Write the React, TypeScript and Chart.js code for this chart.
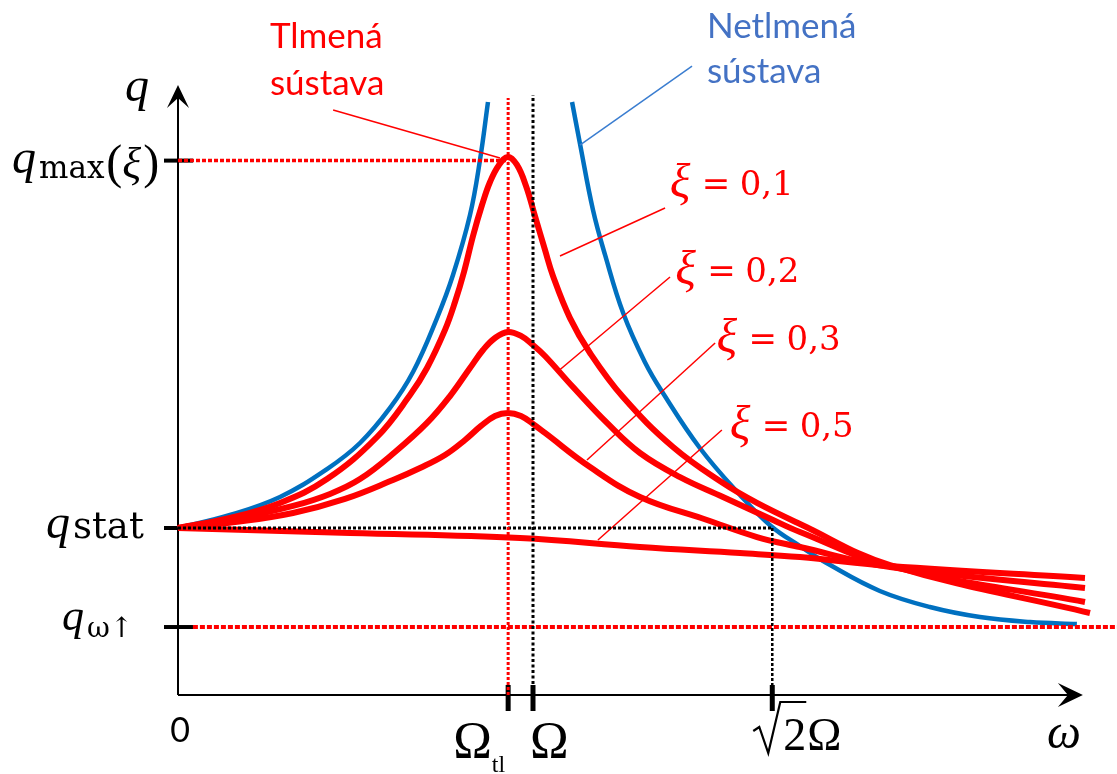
import React, { useEffect, useRef } from "react";
import { Chart, registerables } from "chart.js";

Chart.register(...registerables);

// ---- axis reference values (ω in units of Ω, q in units of q_stat; schematic) ----
const OMEGA_TL = 0.93;
const OMEGA = 1.0;
const SQRT2_OMEGA = 1.674;
const Q_MAX = 3.2;
const Q_STAT = 1.0;
const Q_INF = 0.407;
const W_AXIS_END = 2.549;
const Q_AXIS_END = 3.653;
const W_RIGHT_EDGE = 2.645;

// ---- undamped system (two branches around the resonance) ----
const undampedLeftW = [0, 0.1465, 0.2873, 0.4197, 0.5127, 0.5972, 0.662, 0.7296, 0.7746, 0.8225, 0.8507, 0.8732];
const undampedLeftQ = [1.0, 1.078, 1.186, 1.353, 1.509, 1.719, 1.934, 2.257, 2.515, 2.874, 3.204, 3.551];
const undampedRightW = [1.11, 1.132, 1.169, 1.203, 1.254, 1.315, 1.366, 1.47, 1.583, 1.67, 1.752, 1.837, 1.977, 2.118, 2.259, 2.4, 2.532];
const undampedRightQ = [3.551, 3.305, 2.904, 2.635, 2.287, 1.994, 1.808, 1.479, 1.198, 1.012, 0.892, 0.778, 0.623, 0.527, 0.467, 0.437, 0.425];

// ---- damped system, ξ = 0,1 / 0,2 / 0,3 / 0,5 ----
const xi01W = [0, 0.1465, 0.2873, 0.4197, 0.5606, 0.6535, 0.7014, 0.7521, 0.7803, 0.8056, 0.831, 0.8563, 0.8789, 0.9042, 0.9296, 0.9549, 0.9803, 1.0056, 1.0338, 1.0563, 1.1042, 1.1606, 1.2535, 1.3944, 1.5352, 1.631, 1.7521, 2.0056, 2.569];
const xi01Q = [1.0, 1.06, 1.15, 1.293, 1.545, 1.796, 1.958, 2.186, 2.353, 2.533, 2.749, 2.934, 3.072, 3.174, 3.222, 3.174, 3.048, 2.868, 2.665, 2.509, 2.257, 2.048, 1.784, 1.485, 1.269, 1.15, 1.024, 0.778, 0.491];
const xi02W = [0, 0.1606, 0.3239, 0.4282, 0.5127, 0.6113, 0.7014, 0.7662, 0.8225, 0.8592, 0.893, 0.9296, 0.9662, 1.0, 1.0338, 1.1127, 1.2085, 1.3014, 1.4141, 1.5352, 1.6761, 1.7521, 2.0056, 2.5549];
const xi02Q = [1.0, 1.054, 1.132, 1.204, 1.293, 1.455, 1.629, 1.79, 1.958, 2.066, 2.138, 2.174, 2.15, 2.096, 2.03, 1.844, 1.629, 1.449, 1.305, 1.186, 1.048, 0.976, 0.772, 0.557];
const xi03W = [0, 0.1606, 0.3239, 0.4704, 0.6056, 0.6817, 0.7521, 0.8085, 0.8535, 0.893, 0.9296, 0.9662, 1.0, 1.0338, 1.1606, 1.3014, 1.4901, 1.631, 1.7521, 2.0056, 2.5549];
const xi03Q = [1.0, 1.036, 1.09, 1.174, 1.287, 1.359, 1.437, 1.527, 1.611, 1.671, 1.689, 1.671, 1.623, 1.569, 1.365, 1.186, 1.048, 0.946, 0.886, 0.766, 0.641];
const xi05W = [0, 0.4845, 0.9634, 1.3014, 1.5831, 1.7521, 2.0056, 2.5549];
const xi05Q = [1.0, 0.97, 0.94, 0.886, 0.85, 0.826, 0.772, 0.701];

// ---- labels ----
const xiLabels = ["0,1", "0,2", "0,3", "0,5"];
const dampedLabel = ["Tlmená", "sústava"];
const undampedLabel = ["Netlmená", "sústava"];

// leader lines [from label, to curve] in (ω, q)
const leaderDampedW = [0.437, 0.907];
const leaderDampedQ = [3.503, 3.216];
const leaderUndampedW = [1.448, 1.132];
const leaderUndampedQ = [3.766, 3.293];
const leaderXiW = [[1.372, 1.076], [1.386, 1.068], [1.513, 1.152], [1.532, 1.183]];
const leaderXiQ = [[2.916, 2.629], [2.503, 1.934], [2.108, 1.407], [1.587, 0.928]];
// label anchors (left, baseline) in (ω, q)
const xiLabelW = [1.385, 1.401, 1.517, 1.554];
const xiLabelQ = [2.994, 2.473, 2.066, 1.545];
const dampedLabelW = 0.259;
const dampedLabelQ = [3.874, 3.593];
const undampedLabelW = 1.49;
const undampedLabelQ = [3.934, 3.665];

const RED = "#FF0000";
const BLUE = "#0070C0";
const BLUE_TEXT = "#4472C4";

const pts = (w: number[], q: number[]) => w.map((v, i) => ({ x: v, y: q[i] }));

const curve = (data: any, color: string, width: number) => ({
  data,
  showLine: true,
  borderColor: color,
  borderWidth: width,
  pointRadius: 0,
  fill: false,
  tension: 0.4,
  borderCapStyle: "butt" as const,
  borderJoinStyle: "round" as const,
});
const straight = (data: any, color: string, width: number, dash: number[] = []) => ({
  data,
  showLine: true,
  borderColor: color,
  borderWidth: width,
  borderDash: dash,
  pointRadius: 0,
  fill: false,
  tension: 0,
  borderCapStyle: "butt" as const,
});

const SERIF = '"Liberation Serif", "Times New Roman", serif';
const MSERIF = '"DejaVu Serif", serif';
const SANS = 'Lato, "Open Sans", sans-serif';

function runs(ctx: CanvasRenderingContext2D, x: number, y: number, parts: [string, string, number?, number?][]) {
  let cx = x;
  for (const [text, font, dy = 0, dx = 0] of parts) {
    ctx.font = font;
    cx += dx;
    ctx.fillText(text, cx, y + dy);
    cx += ctx.measureText(text).width;
  }
}

const overlay = {
  id: "overlay",
  beforeDatasetsDraw(chart: any) {
    const { ctx, scales } = chart;
    const X = (v: number) => scales.x.getPixelForValue(v);
    const Y = (v: number) => scales.y.getPixelForValue(v);
    const x0 = X(0), y0 = Y(0);
    ctx.save();
    ctx.strokeStyle = "#000";
    ctx.fillStyle = "#000";
    ctx.lineWidth = 2;
    ctx.beginPath();
    ctx.moveTo(x0, y0);
    ctx.lineTo(X(W_AXIS_END) - 12, y0);
    ctx.moveTo(x0, y0);
    ctx.lineTo(x0, Y(Q_AXIS_END) + 12);
    ctx.stroke();
    const tx = X(W_AXIS_END);
    ctx.beginPath();
    ctx.moveTo(tx, y0);
    ctx.lineTo(tx - 25, y0 - 12);
    ctx.lineTo(tx - 15, y0);
    ctx.lineTo(tx - 25, y0 + 12);
    ctx.closePath();
    ctx.fill();
    const ty = Y(Q_AXIS_END);
    ctx.beginPath();
    ctx.moveTo(x0, ty);
    ctx.lineTo(x0 - 11, ty + 23);
    ctx.lineTo(x0, ty + 13);
    ctx.lineTo(x0 + 11, ty + 23);
    ctx.closePath();
    ctx.fill();
    ctx.lineWidth = 4;
    for (const q of [Q_MAX, Q_STAT, Q_INF]) {
      ctx.beginPath();
      ctx.moveTo(x0 - 14, Y(q));
      ctx.lineTo(x0 + 15, Y(q));
      ctx.stroke();
    }
    ctx.lineWidth = 5;
    for (const w of [OMEGA_TL, OMEGA, SQRT2_OMEGA]) {
      ctx.beginPath();
      ctx.moveTo(X(w), y0 - 10);
      ctx.lineTo(X(w), y0 + 16);
      ctx.stroke();
    }
    ctx.restore();
  },
  afterDatasetsDraw(chart: any) {
    const { ctx, scales } = chart;
    const X = (v: number) => scales.x.getPixelForValue(v);
    const Y = (v: number) => scales.y.getPixelForValue(v);
    const x0 = X(0), y0 = Y(0);
    ctx.save();
    ctx.textBaseline = "alphabetic";
    ctx.textAlign = "left";
    ctx.fillStyle = "#000";
    // y-axis labels
    runs(ctx, x0 - 53, Y(Q_AXIS_END) + 16, [["q", `italic 48px ${SERIF}`]]);
    runs(ctx, x0 - 166, Y(Q_MAX) + 12, [
      ["q", `italic 48px ${SERIF}`],
      ["max", `31px ${MSERIF}`, 5, 3],
      ["(", `48px ${SERIF}`, 5, 2],
      ["ξ", `italic 44px ${SERIF}`, 5],
      [")", `48px ${SERIF}`, 5, 2],
    ]);
    runs(ctx, x0 - 132, Y(Q_STAT) + 10, [
      ["q", `italic 48px ${SERIF}`],
      ["stat", `37px ${MSERIF}`, 0, 3],
    ]);
    runs(ctx, x0 - 116, Y(Q_INF) + 3, [
      ["q", `italic 44px ${SERIF}`],
      ["ω↑", `28px ${MSERIF}`, 7, 3],
    ]);
    // x-axis labels
    ctx.font = `34px ${SANS}`;
    ctx.textAlign = "center";
    ctx.fillText("0", x0 + 2, y0 + 47);
    ctx.textAlign = "left";
    runs(ctx, X(OMEGA_TL) - 55, y0 + 63, [
      ["Ω", `52px ${SERIF}`],
      ["tl", `24px ${SERIF}`, 14, 0],
    ]);
    runs(ctx, X(OMEGA) - 3, y0 + 63, [["Ω", `52px ${SERIF}`]]);
    const sx = X(SQRT2_OMEGA) - 19;
    const by = y0 + 55;
    ctx.strokeStyle = "#000";
    ctx.lineWidth = 2.2;
    ctx.beginPath();
    ctx.moveTo(sx, by - 19);
    ctx.lineTo(sx + 6, by - 23);
    ctx.lineTo(sx + 15, by + 3);
    ctx.lineTo(sx + 27, by - 48);
    ctx.lineTo(sx + 53, by - 48);
    ctx.stroke();
    runs(ctx, sx + 30, by, [
      ["2", `46px ${SERIF}`],
      ["Ω", `46px ${SERIF}`, 0, 1],
    ]);
    runs(ctx, X(W_AXIS_END) - 36, y0 + 53, [["ω", `italic 48px ${SERIF}`]]);

    // system labels
    ctx.font = `35px ${SANS}`;
    ctx.fillStyle = RED;
    dampedLabel.forEach((t, i) => ctx.fillText(t, X(dampedLabelW), Y(dampedLabelQ[i])));
    ctx.fillStyle = BLUE_TEXT;
    undampedLabel.forEach((t, i) => ctx.fillText(t, X(undampedLabelW), Y(undampedLabelQ[i])));

    // ξ labels
    ctx.fillStyle = RED;
    xiLabels.forEach((t, i) => {
      const lx = X(xiLabelW[i]);
      const ly = Y(xiLabelQ[i]);
      ctx.font = `italic 48px ${SERIF}`;
      ctx.fillText("ξ", lx, ly + 2);
      ctx.font = `34px ${MSERIF}`;
      ctx.fillText("=", lx + 32, ly);
      ctx.fillText(t, lx + 70, ly);
    });
    ctx.restore();
  },
};

export default function App() {
  const ref = useRef<HTMLCanvasElement | null>(null);
  useEffect(() => {
    if (!ref.current) return;
    const datasets: any[] = [
      straight(pts([0, OMEGA_TL], [Q_MAX, Q_MAX]), RED, 3.5, [4, 2]),
      straight(pts([OMEGA_TL, OMEGA_TL], [0, 3.575]), RED, 3, [3, 2]),
      straight(pts([OMEGA, OMEGA], [0, 3.593]), "#000", 3, [3, 2.5]),
      straight(pts([0, SQRT2_OMEGA], [Q_STAT, Q_STAT]), "#000", 3, [3, 2]),
      straight(pts([SQRT2_OMEGA, SQRT2_OMEGA], [Q_STAT, 0]), "#000", 2.5, [3, 2]),
      straight(pts([0.042, W_RIGHT_EDGE], [Q_INF, Q_INF]), RED, 4, [5, 2]),
      straight(pts(leaderDampedW, leaderDampedQ), RED, 1.5),
      straight(pts(leaderUndampedW, leaderUndampedQ), "#3A7DD0", 1.5),
      ...leaderXiW.map((w, i) => straight(pts(w, leaderXiQ[i]), RED, 1.5)),
      curve(pts(xi01W, xi01Q), RED, 6),
      curve(pts(xi02W, xi02Q), RED, 6),
      curve(pts(xi03W, xi03Q), RED, 6),
      curve(pts(xi05W, xi05Q), RED, 6),
      curve(pts(undampedLeftW, undampedLeftQ), BLUE, 4.5),
      curve(pts(undampedRightW, undampedRightQ), BLUE, 4.5),
    ];
    const chart = new Chart(ref.current, {
      type: "scatter",
      data: { datasets },
      options: {
        animation: false,
        responsive: false,
        events: [],
        layout: { padding: 0 },
        plugins: { legend: { display: false }, tooltip: { enabled: false }, title: { display: false } },
        scales: {
          x: { type: "linear", min: -178 / 355, max: 939 / 355, display: false },
          y: { type: "linear", min: -79 / 167, max: 695 / 167, display: false },
        },
      },
      plugins: [overlay],
    });
    return () => chart.destroy();
  }, []);
  return (
    <div style={{ position: "absolute", left: 0, top: 0, width: 1117, height: 774, background: "#fff" }}>
      <canvas ref={ref} width={1117} height={774} style={{ display: "block" }} />
    </div>
  );
}
